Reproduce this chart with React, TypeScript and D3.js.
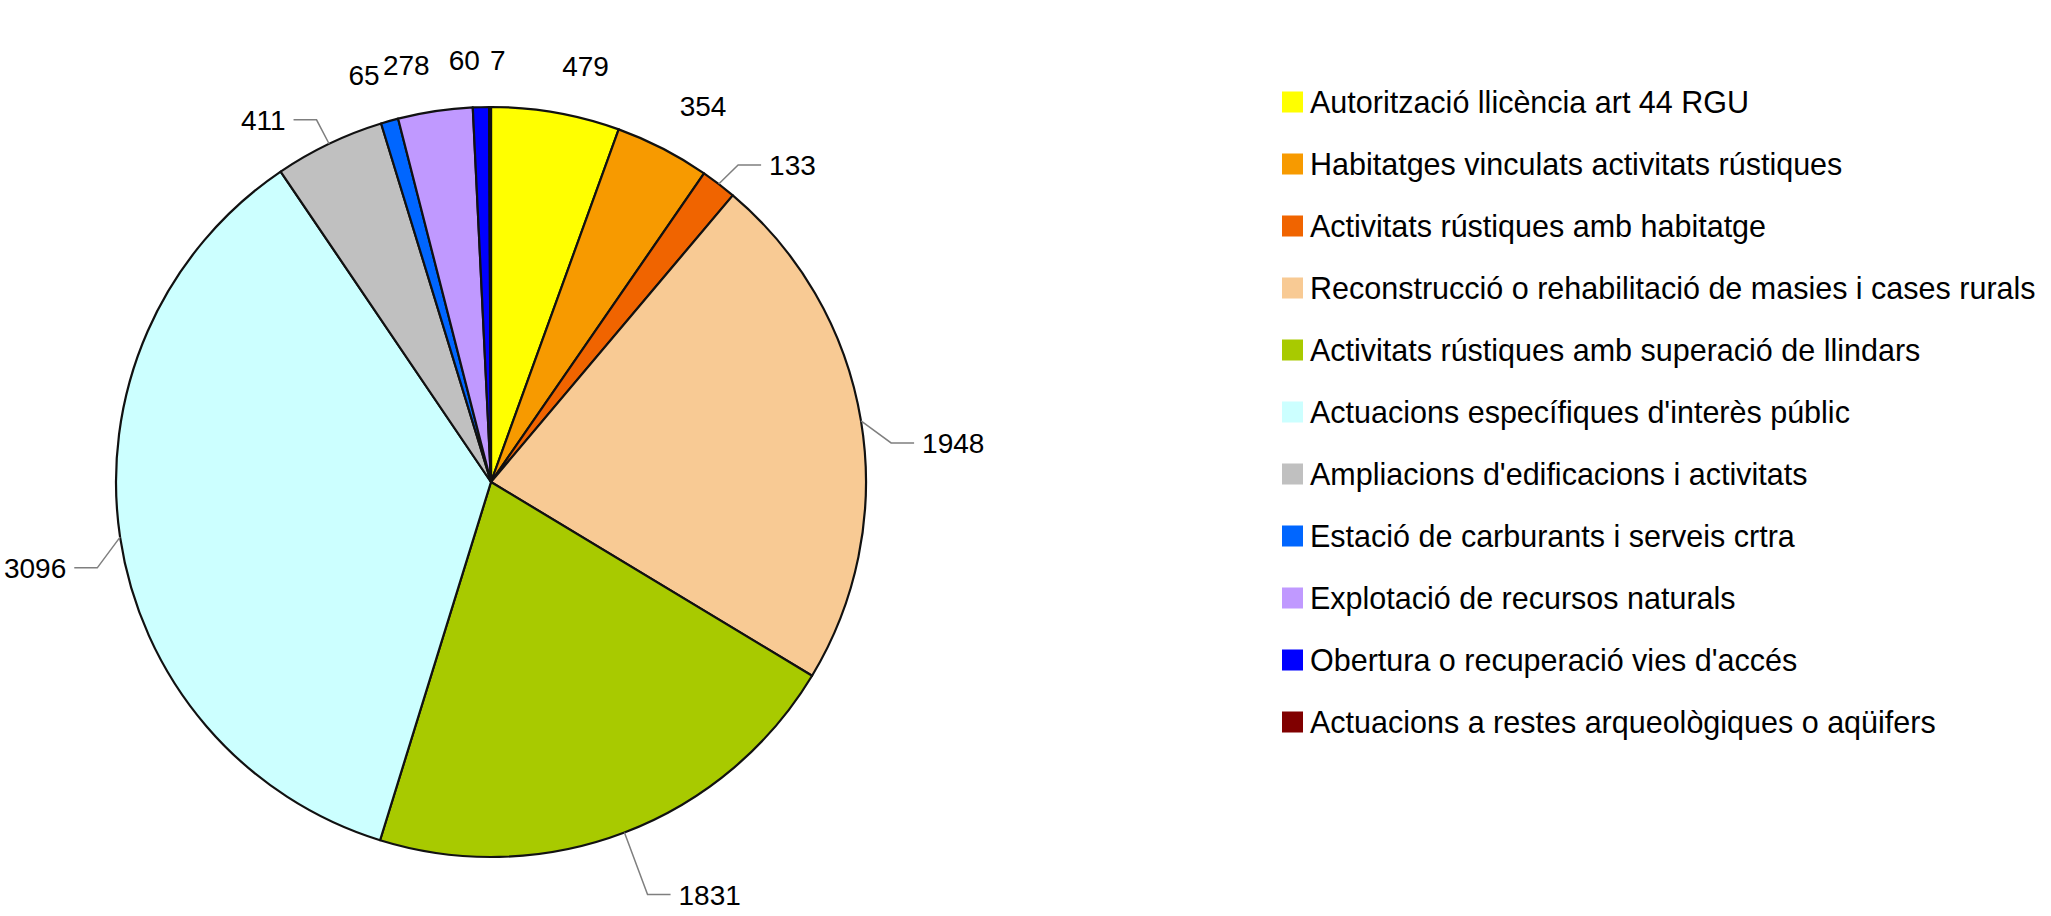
import * as d3 from "d3";

const CATEGORIES = [
  "Autorització llicència art 44 RGU",
  "Habitatges vinculats activitats rústiques",
  "Activitats rústiques amb habitatge",
  "Reconstrucció o rehabilitació de masies i cases rurals",
  "Activitats rústiques amb superació de llindars",
  "Actuacions específiques d'interès públic",
  "Ampliacions d'edificacions i activitats",
  "Estació de carburants i serveis crtra",
  "Explotació de recursos naturals",
  "Obertura o recuperació vies d'accés",
  "Actuacions a restes arqueològiques o aqüifers",
];
const VALUES = [479, 354, 133, 1948, 1831, 3096, 411, 65, 278, 60, 7];
const COLORS = [
  "#ffff00", "#f79a00", "#f06400", "#f8ca94", "#a8ca00", "#ccffff",
  "#c0c0c0", "#0066ff", "#c099ff", "#0000ff", "#800000",
];

const W = 2051;
const H = 916;
const CX = 491;
const CY = 482;
const R = 375;
const FONT = "'Liberation Sans', Arial, sans-serif";
const LABEL_FS = 28;
const CAP = LABEL_FS * 0.716;
const PAD = 2;

type Box = { x0: number; x1: number; y0: number; y1: number };
type Label = {
  text: string;
  x: number;
  y: number;
  anchor: "start" | "end" | "middle";
  leader: [number, number][] | null;
};

function layoutLabels(arcs: d3.PieArcDatum<number>[]): Label[] {
  const placed: Box[] = [];
  const hit = (b: Box) =>
    placed.some(p => b.x0 < p.x1 + PAD && b.x1 + PAD > p.x0 && b.y0 < p.y1 + PAD && b.y1 + PAD > p.y0);
  const out: Label[] = [];

  for (const a of arcs) {
    const t = (a.startAngle + a.endAngle) / 2;
    const s = Math.sin(t), c = Math.cos(t);
    const text = String(a.data);
    const w = text.length * LABEL_FS * 0.556;
    const at = (rr: number, ang = t): [number, number] => [CX + Math.sin(ang) * rr, CY - Math.cos(ang) * rr];
    const onArc = at(R);

    if (s > 0.5 || s < -0.4 || c < 0) {
      // side labels: a leg out from the slice, a short horizontal leg, then the text
      const side = s >= 0 ? 1 : -1;
      const legAngle = t + side * 0.07 * s ** 4;
      const legLen = 27 + 45 * Math.max(0, -c) ** 2;
      const e = at(R + legLen, legAngle);
      const hx = e[0] + side * 23;
      const tx = hx + side * 8;
      out.push({
        text, x: tx, y: e[1] + CAP / 2,
        anchor: side > 0 ? "start" : "end",
        leader: [onArc, e, [hx, e[1]]],
      });
      placed.push({
        x0: side > 0 ? tx : tx - w, x1: side > 0 ? tx + w : tx,
        y0: e[1] - CAP / 2, y1: e[1] + CAP / 2,
      });
      continue;
    }

    // top labels: the corner of the text nearest the pie sits just outside it
    const corner = (rr: number, side: number): Box => {
      const p = at(rr);
      return side > 0
        ? { x0: p[0], x1: p[0] + w, y0: p[1] - CAP, y1: p[1] }
        : { x0: p[0] - w, x1: p[0], y0: p[1] - CAP, y1: p[1] };
    };
    let side = s >= 0 ? 1 : -1;
    let box = corner(R + 37, side);
    if (hit(box)) {
      side = -side;
      box = corner(R + 37, side);
    }
    if (!hit(box)) {
      placed.push(box);
      out.push({ text, x: side > 0 ? box.x0 : box.x1, y: box.y1, anchor: side > 0 ? "start" : "end", leader: null });
      continue;
    }
    // still crowded: lift it out and hang it on a leader
    let rr = R + 37;
    const lifted = (r2: number): Box => {
      const p = at(r2);
      return { x0: p[0] - w / 2, x1: p[0] + w / 2, y0: p[1] - 18 - CAP, y1: p[1] - 18 };
    };
    while (hit(lifted(rr))) rr += 2;
    box = lifted(rr);
    placed.push(box);
    out.push({ text, x: (box.x0 + box.x1) / 2, y: box.y1, anchor: "middle", leader: [onArc, at(rr)] });
  }
  return out;
}

export default function App() {
  const pie = d3.pie<number>().sort(null).value(d => d).startAngle(0).endAngle(2 * Math.PI);
  const arcs = pie(VALUES);
  const arc = d3.arc<d3.PieArcDatum<number>>().innerRadius(0).outerRadius(R);
  const labels = layoutLabels(arcs);
  const color = d3.scaleOrdinal<string, string>().domain(CATEGORIES).range(COLORS);
  const rowY = d3.scalePoint<string>().domain(CATEGORIES).range([102, 722]);
  const line = d3.line();

  return (
    <svg
      width={W}
      height={H}
      style={{ position: "absolute", left: 0, top: 0, background: "#fff" }}
      fontFamily={FONT}
    >
      <g transform={`translate(${CX},${CY})`}>
        {arcs.map((a, i) => (
          <path key={i} d={arc(a) || ""} fill={color(CATEGORIES[i])} stroke="#111" strokeWidth={2.2} strokeLinejoin="round" />
        ))}
      </g>

      <g>
        {labels.map((l, i) => (
          <g key={i}>
            {l.leader && (
              <path d={line(l.leader) || ""} fill="none" stroke="#7f7f7f" strokeWidth={1.5} />
            )}
            <text x={l.x} y={l.y} textAnchor={l.anchor} fontSize={LABEL_FS} fill="#000">
              {l.text}
            </text>
          </g>
        ))}
      </g>

      <g>
        {CATEGORIES.map(cat => {
          const y = rowY(cat) ?? 0;
          return (
            <g key={cat}>
              <rect x={1282} y={y - 10.5} width={21} height={21} fill={color(cat)} />
              <text x={1310} y={y + 11} fontSize={30.5} fill="#000">
                {cat}
              </text>
            </g>
          );
        })}
      </g>
    </svg>
  );
}
